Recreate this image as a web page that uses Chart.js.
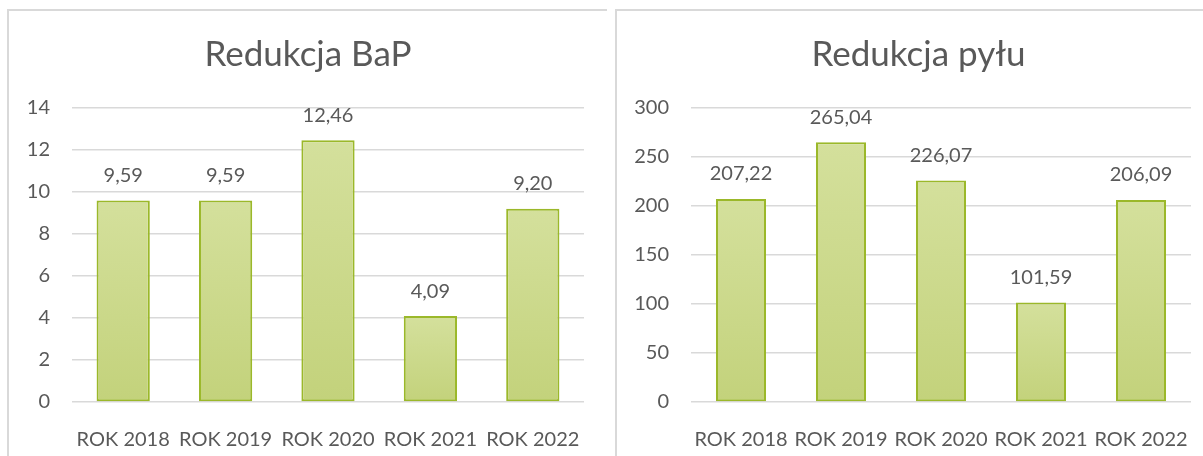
<!DOCTYPE html>
<html>
<head>
<meta charset="utf-8">
<script src="https://cdn.jsdelivr.net/npm/chart.js@4.4.1/dist/chart.umd.min.js"></script>
<style>
  html, body { margin: 0; padding: 0; background: #fff; }
  body { width: 1203px; height: 456px; position: relative; overflow: hidden; }
  .frame { position: absolute; border-top: 2px solid #d9d9d9; border-left: 2px solid #d9d9d9; box-sizing: border-box; }
  #f1 { left: 7px; top: 9px; width: 600px; height: 460px; }
  #f2 { left: 615px; top: 9px; width: 620px; height: 460px; }
  canvas { position: absolute; }
  #c1 { left: 9px; top: 11px; }
  #c2 { left: 617px; top: 11px; }
</style>
</head>
<body>
<div class="frame" id="f1"></div>
<div class="frame" id="f2"></div>
<canvas id="c1" width="598" height="445"></canvas>
<canvas id="c2" width="603" height="445"></canvas>
<script>
const categories = ['ROK 2018', 'ROK 2019', 'ROK 2020', 'ROK 2021', 'ROK 2022'];
const bapValues = [9.59, 9.59, 12.46, 4.09, 9.20];
const pyluValues = [207.22, 265.04, 226.07, 101.59, 206.09];
const bapTitle = 'Redukcja BaP';
const pyluTitle = 'Redukcja pyłu';
const bapAxis = { max: 14, step: 2 };
const pyluAxis = { max: 300, step: 50 };

const FONT = 'Lato';
const TEXT = '#595959';
const GRID = '#d9d9d9';

function fmt(v) { return v.toFixed(2).replace('.', ','); }

const labelPlugin = {
  id: 'barLabels',
  afterDatasetsDraw(chart) {
    const ctx = chart.ctx;
    const meta = chart.getDatasetMeta(0);
    const data = chart.data.datasets[0].data;
    ctx.save();
    ctx.font = '20px ' + FONT;
    ctx.fillStyle = TEXT;
    ctx.textAlign = 'center';
    ctx.textBaseline = 'middle';
    meta.data.forEach((bar, i) => {
      ctx.fillText(fmt(data[i]), bar.x, bar.y - 25);
    });
    ctx.restore();
  }
};

function barFill(context) {
  const chart = context.chart;
  const ys = chart.scales && chart.scales.y;
  if (!chart.chartArea || !ys || context.parsed == null) return '#cad888';
  const top = ys.getPixelForValue(context.parsed.y);
  const bottom = ys.getPixelForValue(0);
  const g = chart.ctx.createLinearGradient(0, top, 0, bottom);
  g.addColorStop(0, '#d4e09c');
  g.addColorStop(1, '#c3d27b');
  return g;
}

function makeChart(id, title, values, axis, yWidth, rightGap, barPct) {
  return new Chart(document.getElementById(id), {
    type: 'bar',
    data: {
      labels: categories,
      datasets: [{
        data: values,
        backgroundColor: barFill,
        borderColor: '#9bb82a',
        borderWidth: 2,
        borderSkipped: false,
        categoryPercentage: 1,
        barPercentage: barPct
      }]
    },
    options: {
      responsive: false,
      animation: false,
      layout: { padding: 0 },
      plugins: {
        legend: { display: false },
        tooltip: { enabled: false },
        title: {
          display: true,
          text: title,
          color: TEXT,
          font: { family: FONT, size: 35, weight: 'normal', lineHeight: 1.2 },
          padding: { top: 23, bottom: 32 }
        }
      },
      scales: {
        x: {
          grid: { display: false },
          border: { display: false },
          ticks: { color: TEXT, font: { family: FONT, size: 20 }, padding: 18, maxRotation: 0, autoSkip: false },
          afterFit(s) { s.height = 54; }
        },
        y: {
          min: 0,
          max: axis.max,
          grid: { color: GRID, lineWidth: 1.5, drawTicks: false },
          border: { display: false },
          ticks: { stepSize: axis.step, color: TEXT, font: { family: FONT, size: 20 }, padding: 22 },
          afterFit(s) { s.width = yWidth; }
        },
        gap: {
          type: 'linear',
          position: 'right',
          display: true,
          grid: { display: false, drawTicks: false },
          border: { display: false },
          ticks: { display: false },
          afterFit(s) { s.width = rightGap; }
        }
      }
    },
    plugins: [labelPlugin]
  });
}

makeChart('c1', bapTitle, bapValues, bapAxis, 63, 23, 0.52);
makeChart('c2', pyluTitle, pyluValues, pyluAxis, 74, 29, 0.5);
</script>
</body>
</html>
